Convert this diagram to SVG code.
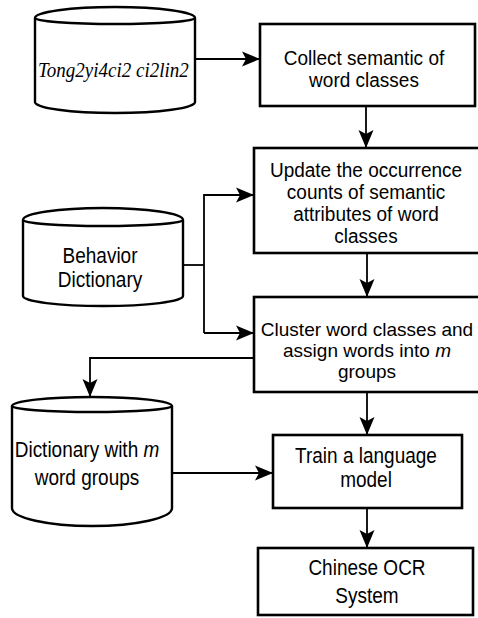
<svg xmlns="http://www.w3.org/2000/svg" width="478" height="618" viewBox="0 0 478 618">
  <style>
    .box { fill: #fff; stroke: #000; stroke-width: 2.6; }
    .db { fill: #fff; stroke: #000; stroke-width: 2.4; stroke-linejoin: round; }
    .lbl { font-family: "Liberation Sans", Arial, Helvetica, sans-serif; font-size: 19px; fill: #000; text-anchor: middle; }
    .ital { font-family: "Liberation Serif", "Times New Roman", serif; font-style: italic; font-size: 19px; fill: #000; }
    .conn { fill: none; stroke: #000; stroke-width: 1.8; }
  </style>
  <defs>
    <marker id="arrow" markerUnits="userSpaceOnUse" markerWidth="20" markerHeight="16" viewBox="0 0 18 16" refX="17" refY="8" orient="auto">
      <path d="M0,0.5 L18,8 L0,15.5 L4,8 z" fill="#000"/>
    </marker>
  </defs>
  <rect width="478" height="618" fill="#fff"/>

  <!-- data stores -->
  <g id="thesaurus">
    <path class="db" d="M35,18 A80,11 0 0 1 195,18 L195,102 A80,11 0 0 1 35,102 Z"/>
    <path class="db" d="M35,18 A80,6 0 0 0 195,18" fill="none"/>
    <text class="ital" transform="translate(38,77) scale(1,1.08)">Tong2yi4ci2 ci2lin2</text>
  </g>

  <g id="behavior-dict">
    <path class="db" d="M23,220 A80,12 0 0 1 183,220 L183,296 A80,10 0 0 1 23,296 Z"/>
    <path class="db" d="M23,220 A80,6 0 0 0 183,220" fill="none"/>
    <text class="lbl" transform="translate(100,263) scale(1,1.15)">Behavior</text>
    <text class="lbl" transform="translate(100,287) scale(1,1.15)">Dictionary</text>
  </g>

  <g id="group-dict">
    <path class="db" d="M12,406 A80,9 0 0 1 172,406 L172,508 A80,18 0 0 1 12,508 Z"/>
    <path class="db" d="M12,406 A80,6 0 0 0 172,406" fill="none"/>
    <text class="lbl" transform="translate(87,457) scale(1,1.15)">Dictionary with <tspan font-style="italic">m</tspan></text>
    <text class="lbl" transform="translate(87,485) scale(1,1.15)">word groups</text>
  </g>

  <!-- process steps -->
  <g id="collect">
    <rect class="box" x="260" y="24" width="215" height="82"/>
    <text class="lbl" transform="translate(364,65) scale(1,1.08)">Collect semantic of</text>
    <text class="lbl" transform="translate(364,87) scale(1,1.08)">word classes</text>
  </g>

  <g id="update">
    <rect class="box" x="254" y="148" width="230" height="105"/>
    <text class="lbl" transform="translate(366,177) scale(1,1.08)">Update the occurrence</text>
    <text class="lbl" transform="translate(366,199) scale(1,1.08)">counts of semantic</text>
    <text class="lbl" transform="translate(366,221) scale(1,1.08)">attributes of word</text>
    <text class="lbl" transform="translate(366,243) scale(1,1.08)">classes</text>
  </g>

  <g id="cluster">
    <rect class="box" x="254" y="297" width="230" height="95"/>
    <text class="lbl" x="367" y="336">Cluster word classes and</text>
    <text class="lbl" x="367" y="357">assign words into <tspan font-style="italic">m</tspan></text>
    <text class="lbl" x="367" y="378">groups</text>
  </g>

  <g id="train">
    <rect class="box" x="273" y="435" width="189" height="73"/>
    <text class="lbl" transform="translate(366,463) scale(1,1.15)">Train a language</text>
    <text class="lbl" transform="translate(366,487) scale(1,1.15)">model</text>
  </g>

  <g id="ocr">
    <rect class="box" x="258" y="548" width="215" height="67"/>
    <text class="lbl" transform="translate(367,575) scale(1,1.15)">Chinese OCR</text>
    <text class="lbl" transform="translate(367,603) scale(1,1.15)">System</text>
  </g>

  <!-- connectors -->
  <g id="connectors">
    <path class="conn" d="M195,59 L259,59" marker-end="url(#arrow)"/>
    <path class="conn" d="M366,106 L366,147" marker-end="url(#arrow)"/>
    <path class="conn" d="M183,265 L204,265"/>
    <path class="conn" d="M204,333 L204,195 L253,195" marker-end="url(#arrow)"/>
    <path class="conn" d="M204,333 L253,333" marker-end="url(#arrow)"/>
    <path class="conn" d="M367,253 L367,296" marker-end="url(#arrow)"/>
    <path class="conn" d="M254,358 L90,358 L90,396" marker-end="url(#arrow)"/>
    <path class="conn" d="M367,392 L367,434" marker-end="url(#arrow)"/>
    <path class="conn" d="M172,473 L272,473" marker-end="url(#arrow)"/>
    <path class="conn" d="M367,508 L367,547" marker-end="url(#arrow)"/>
  </g>
</svg>
